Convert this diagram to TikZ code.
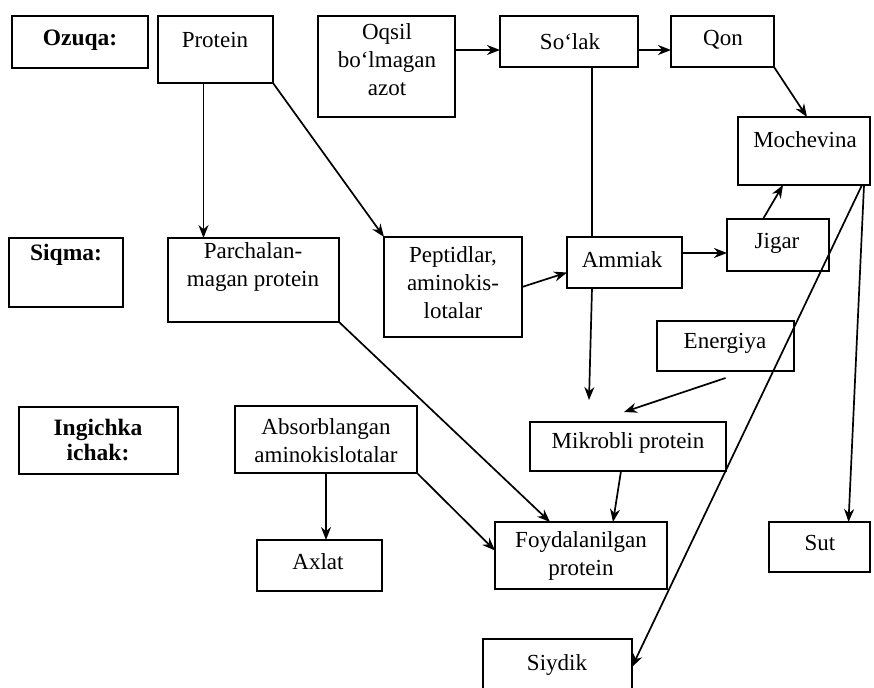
\documentclass[tikz,border=0pt]{standalone}
\usepackage{fontspec}
\setmainfont{Liberation Serif}
\usetikzlibrary{arrows.meta}
\begin{document}
\begin{tikzpicture}[x=1pt,y=-1pt,
  box/.style={draw,line width=1.8pt,inner sep=0pt,outer sep=0pt},
  txt/.style={inner sep=0pt,align=center,font=\fontsize{23}{28}\selectfont},
  btxt/.style={txt,font=\fontsize{23.5}{25}\selectfont\bfseries},
  conn/.style={line width=1.7pt},
  arr/.style={conn,-{Stealth[length=13pt,width=10pt]}}]
\clip (0,0) rectangle (874,687);
\fill[white] (0,0) rectangle (874,687);
% boxes
\node[box,minimum width=136pt,minimum height=52pt] (ozuqa) at (80,42) {};
\node[box,minimum width=115pt,minimum height=67pt] (protein) at (215.5,49.5) {};
\node[box,minimum width=137pt,minimum height=101pt] (oqsil) at (386.5,66.5) {};
\node[box,minimum width=138pt,minimum height=51pt] (solak) at (569,41.5) {};
\node[box,minimum width=103pt,minimum height=51pt] (qon) at (722.5,41.5) {};
\node[box,minimum width=132pt,minimum height=68pt] (moch) at (804,151) {};
\node[box,minimum width=114pt,minimum height=69pt] (siqma) at (66,272.5) {};
\node[box,minimum width=171pt,minimum height=84pt] (parch) at (253.5,280) {};
\node[box,minimum width=138pt,minimum height=100pt] (pept) at (453,287) {};
\node[box,minimum width=115pt,minimum height=51pt] (ammiak) at (624.5,262.5) {};
\node[box,minimum width=102pt,minimum height=52pt] (jigar) at (778,245) {};
\node[box,minimum width=137pt,minimum height=50pt] (energiya) at (725.5,346) {};
\node[box,minimum width=159pt,minimum height=67pt] (ingichka) at (98.5,440.5) {};
\node[box,minimum width=182pt,minimum height=67pt] (absorb) at (326,439.5) {};
\node[box,minimum width=196pt,minimum height=49pt] (mikrobli) at (628,446.5) {};
\node[box,minimum width=172pt,minimum height=67pt] (foyd) at (581,555.5) {};
\node[box,minimum width=125pt,minimum height=51pt] (axlat) at (319.5,565.5) {};
\node[box,minimum width=101pt,minimum height=50pt] (sut) at (819.5,547) {};
\node[box,minimum width=149pt,minimum height=61pt] (siydik) at (557.5,669.5) {};
% texts
\node[btxt] (t-ozuqa) at (80,40) {Ozuqa:};
\node[txt] (t-protein) at (215,40) {Protein};
\node[txt] (t-oqsil) at (387,60) {Oqsil\\bo‘lmagan\\azot};
\node[txt] (t-solak) at (570,42) {So‘lak};
\node[txt] (t-qon) at (723,40) {Qon};
\node[txt] (t-moch) at (805,140) {Mochevina};
\node[btxt] (t-siqma) at (66,255) {Siqma:};
\node[txt] (t-parch) at (253,267) {Parchalan-\\magan protein};
\node[txt] (t-pept) at (453,283) {Peptidlar,\\aminokis-\\lotalar};
\node[txt] (t-ammiak) at (622,260) {Ammiak};
\node[txt] (t-jigar) at (777,243) {Jigar};
\node[txt] (t-energiya) at (725,343) {Energiya};
\node[btxt] (t-ingichka) at (98,440) {Ingichka\\ichak:};
\node[txt] (t-absorb) at (326,441) {Absorblangan\\aminokislotalar};
\node[txt] (t-mikrobli) at (628,443) {Mikrobli protein};
\node[txt] (t-foyd) at (581,556) {Foydalanilgan\\protein};
\node[txt] (t-axlat) at (318,562) {Axlat};
\node[txt] (t-sut) at (820,543) {Sut};
\node[txt] (t-siydik) at (557,665) {Siydik};
% free ends
\coordinate (mk-in) at (589,400);
\coordinate (mk-in2) at (624,412);
% connectors
\draw[arr] ([xshift=-12pt]protein.south) -- ([xshift=-12pt]protein.south |- parch.north);
\draw[arr] (protein.south east) -- (pept.north west);
\draw[arr] (oqsil.east |- 0,50) -- (solak.west |- 0,50);
\draw[arr] (solak.east |- 0,50) -- (qon.west |- 0,50);
\draw[arr] (qon.south east) -- ([xshift=3pt]moch.north);
\draw[conn] ([xshift=23pt]solak.south) -- ([xshift=23pt]solak.south |- ammiak.north);
\draw[arr] ([xshift=23pt]solak.south |- ammiak.south) -- (mk-in);
\draw[arr] (pept.east) -- ([yshift=-10pt]ammiak.west);
\draw[arr] (ammiak.east |- 0,253) -- (jigar.west |- 0,253);
\draw[arr] ([xshift=-15pt]jigar.north) -- ([xshift=-21pt]moch.south);
\draw[arr] ([xshift=58pt]moch.south) -- (siydik.east |- 0,667);
\draw[arr] ([xshift=60pt]moch.south) -- ([xshift=29pt]sut.north);
\draw[arr] ([yshift=-7pt]energiya.south) -- (mk-in2);
\draw[arr] ([xshift=-7pt]mikrobli.south) -- ([xshift=32pt]foyd.north);
\draw[arr] (parch.south east) -- ([xshift=-31pt]foyd.north);
\draw[arr] (absorb.south) -- (absorb.south |- axlat.north);
\draw[arr] (absorb.south east) -- ([yshift=5pt]foyd.west);
\end{tikzpicture}
\end{document}
